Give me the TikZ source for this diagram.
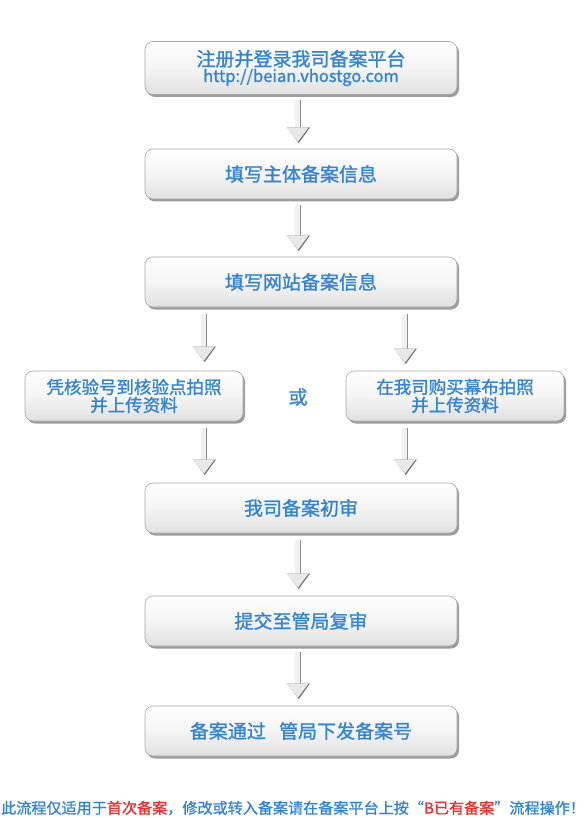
\documentclass[tikz,border=0pt]{standalone}
\usepackage{fontspec}
\setmainfont{Noto Sans CJK SC}
\newfontfamily\semib{Noto Sans CJK SC}[FakeBold=1.3]
\usetikzlibrary{shadows,calc}
\definecolor{tblue}{RGB}{52,132,214}
\definecolor{tred}{RGB}{232,50,47}
\tikzset{
  box/.style={draw=black!35, line width=0.6pt, rounded corners=8pt,
    top color=white, bottom color=black!12, middle color=white!96!black,
    minimum height=50pt, align=center, text=tblue, font=\semib\fontsize{19}{22}\selectfont,
    drop shadow={shadow xshift=2pt, shadow yshift=-2.5pt, opacity=0.55, fill=black!70}},
  smallbox/.style={box, minimum width=218pt, font=\semib\fontsize{17.5}{20}\selectfont},
}
\newcommand{\flowarrow}[3]{% x, ytop, ybottom (pixel coords, y downward)
  \fill[black!45] (#1-1.5,#2) rectangle (#1+3.2,#3-12);
  \fill[black!6] (#1-2.8,#2) rectangle (#1+1.6,#3-12);
  \fill[black!55] (#1-11,#3-15.5) -- (#1+12,#3-15.5) -- (#1+0.8,#3) -- cycle;
  \fill[black!9] (#1-11.5,#3-15.5) -- (#1+10.5,#3-15.5) -- (#1,#3-1.5) -- cycle;
}
\begin{document}
\begin{tikzpicture}[x=1pt,y=-1pt]
\useasboundingbox (0,0) rectangle (588,818);
\node[box, minimum width=312pt, minimum height=53pt] (b1) at (301,68)
  {注册并登录我司备案平台\\[-6pt]{\fontsize{16.5}{18}\selectfont http://beian.vhostgo.com}};
\node[box, minimum width=312pt] (b2) at (301,174) {填写主体备案信息};
\node[box, minimum width=312pt] (b3) at (301,282) {填写网站备案信息};
\node[smallbox] (bl) at (134,396) {凭核验号到核验点拍照\\[-2pt]并上传资料};
\node[smallbox] (br) at (455,396) {在我司购买幕布拍照\\[-2pt]并上传资料};
\node[text=tblue, font=\semib\fontsize{19}{22}\selectfont] (or) at (298,397) {或};
\node[box, minimum width=312pt] (b4) at (301,508) {我司备案初审};
\node[box, minimum width=312pt] (b5) at (301,621) {提交至管局复审};
\node[box, minimum width=312pt] (b6) at (301,731) {备案通过\hspace{0.7em}管局下发备案号};
% arrows
\flowarrow{298}{100}{143}
\flowarrow{298}{205}{251}
\flowarrow{204}{314}{362}
\flowarrow{405}{314}{364}
\flowarrow{204}{428}{475}
\flowarrow{405}{428}{475}
\flowarrow{298}{540}{589}
\flowarrow{298}{652}{699}
\node[anchor=west, inner sep=0pt, font=\semib\fontsize{15.1}{18}\selectfont, text=tblue] (foot) at (1,808)
  {此流程仅适用于\textcolor{tred}{首次备案}，修改或转入备案请在备案平台上按“\textcolor{tred}{B已有备案}”流程操作！};
\end{tikzpicture}
\end{document}
